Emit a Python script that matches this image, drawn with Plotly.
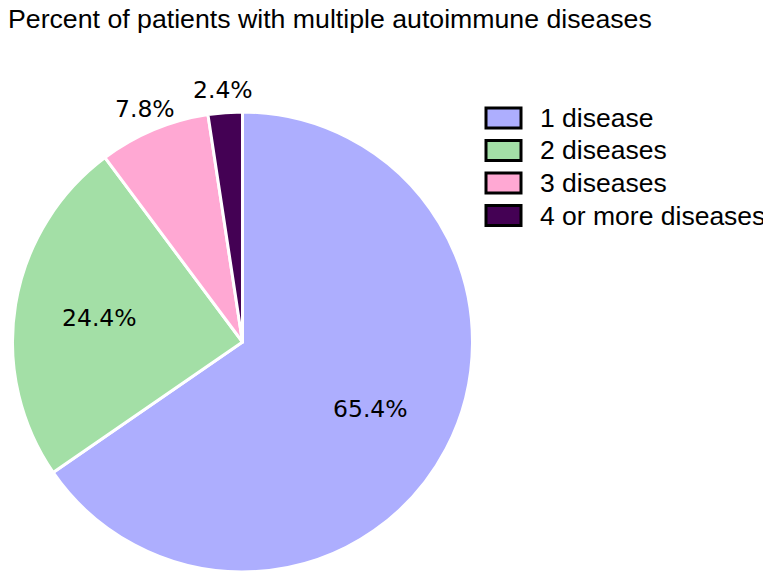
import math
import plotly.graph_objects as go

categories = ["1 disease", "2 diseases", "3 diseases", "4 or more diseases"]
percents = [65.4, 24.4, 7.8, 2.4]
colors = ["#ADAEFE", "#A3DFA6", "#FFA8D3", "#440154"]
label_inside = [True, True, False, False]
title_text = "Percent of patients with multiple autoimmune diseases"

# page body adds an 8px margin, so the figure is sized to fit the window
W, H = 763, 578

# pie geometry (pixels, figure coords)
cx, cy, R = 234.5, 334.0, 230.0
dom_x = [(cx - R) / W, (cx + R) / W]
dom_y = [(H - (cy + R)) / H, (H - (cy - R)) / H]

fig = go.Figure()
fig.add_trace(go.Pie(
    labels=categories,
    values=percents,
    sort=False,
    direction="clockwise",
    rotation=0,
    marker=dict(colors=colors, line=dict(color="white", width=3)),
    textinfo="none",
    showlegend=False,
    hoverinfo="label+percent",
    domain=dict(x=dom_x, y=dom_y),
))

annotations = []
shapes = []

# percentage labels placed along each slice's mid-angle
total = sum(percents)
cum = 0.0
for v, inside in zip(percents, label_inside):
    theta = 2 * math.pi * (cum + v / 2) / total
    cum += v
    f = 0.63 if inside else 1.1
    px = cx + f * R * math.sin(theta)
    py = cy - f * R * math.cos(theta)
    annotations.append(dict(
        text=f"{v:.1f}%", xref="paper", yref="paper",
        x=px / W, y=1 - py / H, xanchor="center", yanchor="middle",
        showarrow=False,
        font=dict(family="DejaVu Sans", size=23.5, color="black"),
    ))

# manual legend with bordered swatches
row0, step = 110, 32.5
for i, (name, col) in enumerate(zip(categories, colors)):
    yc = row0 + i * step
    shapes.append(dict(
        type="rect", xref="paper", yref="paper",
        x0=478 / W, x1=513 / W,
        y0=1 - (yc + 10) / H, y1=1 - (yc - 10) / H,
        fillcolor=col, line=dict(color="black", width=3),
    ))
    annotations.append(dict(
        text=name, xref="paper", yref="paper",
        x=530 / W, y=1 - yc / H, xanchor="left", yanchor="middle",
        showarrow=False,
        font=dict(family="Liberation Sans, Arial", size=26.5, color="black"),
    ))

fig.update_layout(
    width=W, height=H,
    margin=dict(l=0, r=0, t=0, b=0),
    paper_bgcolor="white",
    plot_bgcolor="white",
    title=dict(
        text=title_text, x=0, xanchor="left",
        y=1 - 1 / H, yanchor="top",
        font=dict(family="Liberation Sans, Arial", size=26.7, color="black"),
    ),
    shapes=shapes,
    annotations=annotations,
)

fig.write_html("out.html")
